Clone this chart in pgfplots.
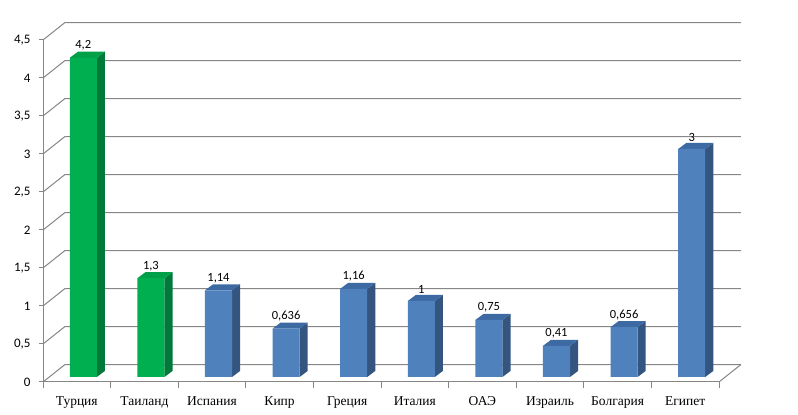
\documentclass[border=0pt]{standalone}
\usepackage{fontspec}
\setmainfont{Liberation Serif}
\newfontfamily\calibri{Carlito}
\usepackage{pgfplots}
\pgfplotsset{compat=1.18}
\definecolor{gfront}{HTML}{00B050}
\definecolor{gside}{HTML}{00793A}
\definecolor{gtop}{HTML}{00A048}
\definecolor{bfront}{HTML}{4F81BD}
\definecolor{bside}{HTML}{34557F}
\definecolor{btop}{HTML}{3E6AA3}
\definecolor{gridc}{HTML}{868686}
\newcommand\facesbar[4]{%
  \pgfmathsetmacro\xa{#1+0.2}%
  \pgfmathsetmacro\xb{#1+0.32}%
  \pgfmathsetmacro\xc{#1-0.2}%
  \pgfmathsetmacro\xd{#1-0.08}%
  \pgfmathsetmacro\ya{#2+0.08}%
  \edef\temp{\noexpand\addplot[fill=#3,draw=none,forget plot] coordinates {(\xa,0) (\xb,0.08) (\xb,\ya) (\xa,#2)};
  \noexpand\addplot[fill=#4,draw=none,forget plot] coordinates {(\xc,#2) (\xd,\ya) (\xb,\ya) (\xa,#2)};}%
  \temp}
\begin{document}
\begin{tikzpicture}[x=1pt,y=1pt]
\useasboundingbox (0,0) rectangle (798,415);
\begin{axis}[
  at={(43pt,33pt)}, anchor=south west, scale only axis,
  width=676pt, height=342pt,
  xmin=-0.5, xmax=9.5, ymin=0, ymax=4.5, clip=false,
  axis x line*=bottom, axis y line*=left,
  axis line style={gridc, line width=1pt},
  tick align=outside,
  xtick={0,...,9},
  xticklabels={Турция,Таиланд,Испания,Кипр,Греция,Италия,ОАЭ,Израиль,Болгария,Египет},
  major x tick style={draw=none},
  minor xtick={-0.5,0.5,...,9.5},
  minor x tick style={gridc, line width=1pt},
  minor tick length=6pt,
  ytick={0,0.5,...,4.5},
  major y tick style={gridc, line width=1pt},
  major tick length=4pt,
  xticklabel style={font=\fontsize{13.5}{15}\selectfont, yshift=-7pt},
  yticklabel style={font=\calibri\fontsize{13}{14}\selectfont, xshift=-5pt},
  /pgf/number format/use comma,
  /pgf/number format/assume math mode=true,
]
\pgfplotsinvokeforeach{0,0.5,...,4.5}{
  \draw[gridc, line width=1pt] (axis cs:-0.5,#1) -- (axis cs:-0.175,{#1+0.23}) -- (axis cs:9.825,{#1+0.23});
}
\draw[gridc, line width=1pt] (axis cs:9.5,0) -- (axis cs:9.825,0.23);
\end{axis}
\begin{axis}[
  at={(49.5pt,38pt)}, anchor=south west, scale only axis,
  width=676pt, height=342pt,
  xmin=-0.5, xmax=9.5, ymin=0, ymax=4.5, clip=false, hide axis,
]
\facesbar{0}{4.2}{gside}{gtop}
\facesbar{1}{1.3}{gside}{gtop}
\facesbar{2}{1.14}{bside}{btop}
\facesbar{3}{0.636}{bside}{btop}
\facesbar{4}{1.16}{bside}{btop}
\facesbar{5}{1}{bside}{btop}
\facesbar{6}{0.75}{bside}{btop}
\facesbar{7}{0.41}{bside}{btop}
\facesbar{8}{0.656}{bside}{btop}
\facesbar{9}{3}{bside}{btop}
\pgfplotsset{lbl/.style={nodes near coords, point meta=explicit symbolic,
  every node near coord/.append style={font=\calibri\fontsize{12.5}{13}\selectfont, text=black, anchor=south, yshift=4pt}}}
\addplot[ybar, bar width=0.4, fill=gfront, draw=none, lbl] coordinates {(0,4.2) [4,2] (1,1.3) [1,3]};
\addplot[ybar, bar width=0.4, fill=bfront, draw=none, lbl] coordinates {(2,1.14) [1,14] (3,0.636) [0,636] (4,1.16) [1,16] (5,1) [1] (6,0.75) [0,75] (7,0.41) [0,41] (8,0.656) [0,656] (9,3) [3]};
\end{axis}
\end{tikzpicture}
\end{document}
